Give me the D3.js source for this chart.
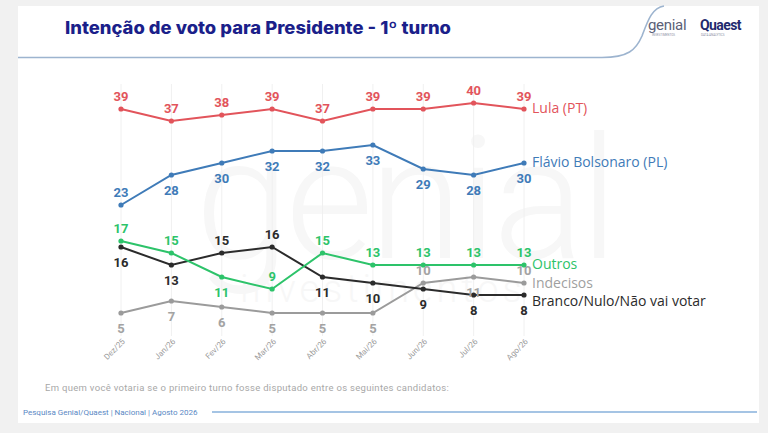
<!DOCTYPE html>
<html>
<head>
<meta charset="utf-8">
<script src="https://cdn.jsdelivr.net/npm/d3@7"></script>
<style>
  html, body { margin: 0; padding: 0; background: #f1f1f1; }
  svg { display: block; font-family: Roboto, "Noto Sans", sans-serif; }
</style>
</head>
<body>
<div id="chart"></div>
<script>
// data
const months = ["Dez/25", "Jan/26", "Fev/26", "Mar/26", "Abr/26", "Mai/26", "Jun/26", "Jul/26", "Ago/26"];
const lula = [39, 37, 38, 39, 37, 39, 39, 40, 39];
const flavio = [23, 28, 30, 32, 32, 33, 29, 28, 30];
const outros = [17, 15, 11, 9, 15, 13, 13, 13, 13];
const indecisos = [5, 7, 6, 5, 5, 5, 10, 11, 10];
const branco = [16, 13, 15, 16, 11, 10, 9, 8, 8];
const seriesNames = ["Lula (PT)", "Flávio Bolsonaro (PL)", "Outros", "Indecisos", "Branco/Nulo/Não vai votar"];

const width = 768, height = 433;

// where each number label sits (a = above the point, b = below)
const series = [
  { name: seriesNames[3], values: indecisos, color: "#9b9b9b", labelColor: "#a3a3a3",
    pos: "bbbbbbaba", nameDy: 0 },
  { name: seriesNames[4], values: branco, color: "#2b2b2b", labelColor: "#2b2b2b",
    pos: "bbaabbbbb", nameDy: 6 },
  { name: seriesNames[2], values: outros, color: "#2dc36a", labelColor: "#2dc36a",
    pos: "aabaaaaaa", nameDy: -1 },
  { name: seriesNames[1], values: flavio, color: "#3f7bb8", labelColor: "#3f7bb8",
    pos: "abbbbbbbb", nameDy: -1 },
  { name: seriesNames[0], values: lula, color: "#e2545b", labelColor: "#e2545b",
    pos: "aaaaaaaaa", nameDy: -1 }
];

const svg = d3.select("#chart").append("svg")
  .attr("width", width)
  .attr("height", height);

// card
svg.append("rect").attr("x", 18).attr("y", 6).attr("width", 741).attr("height", 417).attr("fill", "#fff");

// watermark (very faint)
svg.append("text").attr("x", 195).attr("y", 258)
  .attr("font-size", 170).attr("font-weight", 300).attr("fill", "#f7f7f7")
  .attr("letter-spacing", -4).text("genial");
svg.append("text").attr("x", 240).attr("y", 302)
  .attr("font-size", 38).attr("font-weight", 300).attr("fill", "#f7f7f7")
  .attr("letter-spacing", 4).text("investimentos");

// header
svg.append("text")
  .attr("x", 65).attr("y", 34)
  .attr("font-family", "Inter, Lato, Roboto, sans-serif")
  .attr("font-weight", 800)
  .attr("font-size", 17)
  .attr("textLength", 386)
  .attr("lengthAdjust", "spacingAndGlyphs")
  .attr("fill", "#1b1f8a")
  .text("Intenção de voto para Presidente - 1º turno");

svg.append("path")
  .attr("d", "M18,57.5 H602 C628,57.5 636,50 642,36 C648,20 652,8 664,6")
  .attr("fill", "none")
  .attr("stroke", "#9db4cf")
  .attr("stroke-width", 1.6);

// logos
const logo = svg.append("g");
logo.append("text").attr("x", 648).attr("y", 30)
  .attr("font-size", 15).attr("font-weight", 400).attr("fill", "#5b6077")
  .attr("letter-spacing", -0.3).text("genial");
logo.append("text").attr("x", 652).attr("y", 36)
  .attr("font-size", 3).attr("fill", "#8a8fa3").text("INVESTIMENTOS");
logo.append("text").attr("x", 700).attr("y", 30)
  .attr("font-size", 14).attr("font-weight", 700).attr("fill", "#1f2a6e")
  .attr("letter-spacing", -0.6).text("Quaest");
logo.append("text").attr("x", 701).attr("y", 36)
  .attr("font-size", 3).attr("fill", "#8a8fa3").text("DATA ANALYTICS");

// scales
const x = d3.scalePoint().domain(months).range([121, 524]);
const y = d3.scaleLinear().domain([0, 40]).range([343, 103]);

// vertical grid
svg.append("g").selectAll("line").data(months).join("line")
  .attr("x1", d => x(d)).attr("x2", d => x(d))
  .attr("y1", 84).attr("y2", 336)
  .attr("stroke", "#f0f0f0").attr("stroke-width", 1);

// x axis labels
const xAxis = d3.axisBottom(x).tickSize(0).tickPadding(0);
const gx = svg.append("g").attr("transform", "translate(0,338)").call(xAxis);
gx.select(".domain").remove();
gx.selectAll("text")
  .attr("font-family", "Roboto, sans-serif")
  .attr("font-size", 8)
  .attr("fill", "#9a9a9a")
  .attr("text-anchor", "end")
  .attr("dy", 0)
  .attr("transform", "translate(4,4) rotate(-45)");

const line = d3.line().x((d, i) => x(months[i])).y(d => y(d));

const g = svg.append("g");
series.forEach(s => {
  g.append("path").datum(s.values)
    .attr("d", line)
    .attr("fill", "none")
    .attr("stroke", s.color)
    .attr("stroke-width", 2);
  g.selectAll(null).data(s.values).join("circle")
    .attr("cx", (d, i) => x(months[i]))
    .attr("cy", d => y(d))
    .attr("r", 2.6)
    .attr("fill", s.color);
});

// number labels
series.forEach(s => {
  g.selectAll(null).data(s.values).join("text")
    .attr("x", (d, i) => x(months[i]))
    .attr("y", (d, i) => y(d) + (s.pos[i] === "a" ? -8.5 : 20))
    .attr("text-anchor", "middle")
    .attr("font-size", 13)
    .attr("font-weight", 700)
    .attr("fill", s.labelColor)
    .text(d => d);
  // series name at the right end
  const last = s.values[s.values.length - 1];
  g.append("text")
    .attr("x", x(months[months.length - 1]) + 8)
    .attr("y", y(last) + s.nameDy)
    .attr("dy", "0.35em")
    .attr("font-family", "'Open Sans', Roboto, sans-serif")
    .attr("font-size", 14)
    .attr("fill", s.color === "#9b9b9b" ? "#9f9f9f" : s.color)
    .text(s.name);
});

// footnotes
svg.append("text").attr("x", 45).attr("y", 391)
  .attr("font-size", 9.5).attr("fill", "#a8a8a8")
  .attr("letter-spacing", 0.3)
  .text("Em quem você votaria se o primeiro turno fosse disputado entre os seguintes candidatos:");
svg.append("text").attr("x", 23).attr("y", 414.5)
  .attr("font-size", 8).attr("fill", "#5a88c4")
  .text("Pesquisa Genial/Quaest | Nacional | Agosto 2026");
svg.append("line").attr("x1", 212).attr("x2", 757).attr("y1", 412).attr("y2", 412)
  .attr("stroke", "#a5c4e4").attr("stroke-width", 2);
</script>
</body>
</html>
